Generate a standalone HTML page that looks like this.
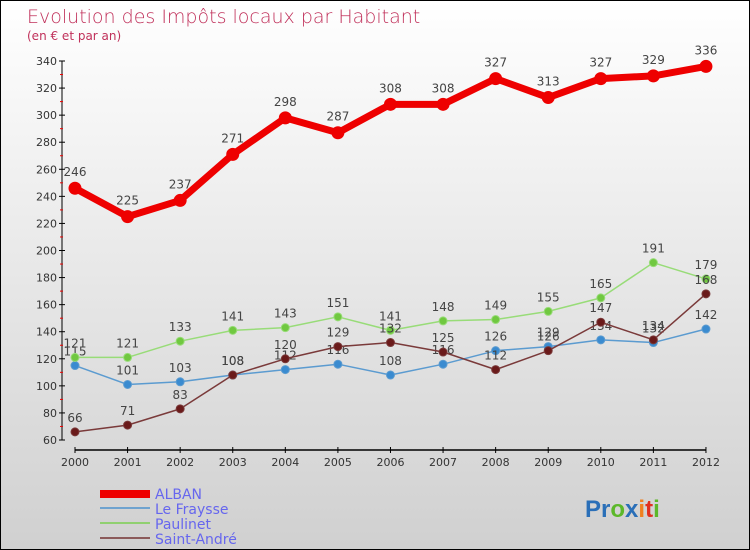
<!DOCTYPE html>
<html><head><meta charset="utf-8"><style>
body{margin:0}
#c{width:748px;height:548px;border:1px solid #000;background:linear-gradient(#fff,#d0d0d0);position:relative;font-family:"DejaVu Sans","Liberation Sans",sans-serif}
</style></head><body>
<div id="c">
<svg id="s" width="748" height="548" style="position:absolute;left:0;top:0">
<text x="26" y="22" font-size="19" fill="#c0305a" font-family="DejaVu Sans" font-weight="200">Evolution des Impôts locaux par Habitant</text>
<text x="26" y="39" font-size="12" fill="#c0305a">(en € et par an)</text>
<g id="legend">
<rect x="99" y="489" width="50" height="8" fill="#e00"/>
<text x="154" y="498" font-size="14" fill="#6666ee">ALBAN</text>
<line x1="99" y1="507" x2="149" y2="507" stroke="#6fa3cf" stroke-width="2"/>
<text x="154" y="513" font-size="14" fill="#6666ee">Le Fraysse</text>
<line x1="99" y1="522" x2="149" y2="522" stroke="#90d070" stroke-width="2"/>
<text x="154" y="528" font-size="14" fill="#6666ee">Paulinet</text>
<line x1="99" y1="537" x2="149" y2="537" stroke="#8b5a5a" stroke-width="2"/>
<text x="154" y="543" font-size="14" fill="#6666ee">Saint-André</text>
</g>
<text x="584" y="516" font-size="24" font-weight="bold" font-family="Liberation Sans"><tspan fill="#2a6fb8">Pr</tspan><tspan fill="#5cb82a">o</tspan><tspan fill="#2a6fb8">x</tspan><tspan fill="#f08020">i</tspan><tspan fill="#e03020">t</tspan><tspan fill="#5cb82a">i</tspan></text>
</svg>
</div>
<script>
const years=["2000","2001","2002","2003","2004","2005","2006","2007","2008","2009","2010","2011","2012"];
const alban=[246,225,237,271,298,287,308,308,327,313,327,329,336];
const leFraysse=[115,101,103,108,112,116,108,116,126,129,134,132,142];
const paulinet=[121,121,133,141,143,151,141,148,149,155,165,191,179];
const saintAndre=[66,71,83,108,120,129,132,125,112,126,147,134,168];
const yTicks=[60,80,100,120,140,160,180,200,220,240,260,280,300,320,340];
const NS="http://www.w3.org/2000/svg";
const svg=document.getElementById('s');
const X=i=>74+i*52.58;
const Y=v=>439-(v-60)*(379/280);
function mk(t,a,p){const e=document.createElementNS(NS,t);for(const k in a)e.setAttribute(k,a[k]);(p||svg).appendChild(e);return e;}
const ax=mk('g',{});


let l=mk('line',{x1:61,y1:Y(340),x2:61,y2:Y(60),stroke:'#000'},ax);


l=mk('line',{x1:X(0),y1:449,x2:X(12),y2:449,stroke:'#000','stroke-width':1.5},ax);


yTicks.forEach(v=>{
 const t=mk('line',{x1:58,y1:Y(v),x2:64,y2:Y(v),stroke:'#000'},ax);
 
 
 if(v<340){const m=mk('line',{x1:59,y1:Y(v+10),x2:62,y2:Y(v+10),stroke:'#e00'},ax);
 
 }
 const tx=mk('text',{x:56,y:Y(v)+4,'font-size':11,fill:'#333','text-anchor':'end'},ax);
 tx.textContent=v;
 
 
});
years.forEach((y,i)=>{
 const t=mk('line',{x1:X(i),y1:446,x2:X(i),y2:452,stroke:'#000'},ax);
 
 
 const tx=mk('text',{x:X(i),y:465,'font-size':11,fill:'#333','text-anchor':'middle'},ax);
 tx.textContent=y;
 
 
});
function series(d,name,col,w,r,fill){
 const g=mk('g',{});
 
 
 const p=mk('polyline',{points:d.map((v,i)=>X(i)+','+Y(v)).join(' '),fill:'none',stroke:col,'stroke-width':w,'stroke-linejoin':'round'},g);
 
 
 d.forEach((v,i)=>{
  const c=mk('circle',{cx:X(i),cy:Y(v),r:r,fill:fill,stroke:col,'stroke-width':1},g);
  
  
  const t=mk('text',{x:X(i),y:Y(v)-(r+6),'font-size':12,fill:'#444','text-anchor':'middle'},g);
  t.textContent=v;
  
  
 });
}
series(leFraysse,'le-fraysse','#5b9bd0',1.5,4,'#3a8bd0');
series(paulinet,'paulinet','#98dc78',1.5,4,'#70c840');
series(saintAndre,'saint-andre','#7a3a3a',1.5,4,'#6a1a1a');
series(alban,'alban','#ee0000',7,6,'#ee0000');
</script>
</body></html>
